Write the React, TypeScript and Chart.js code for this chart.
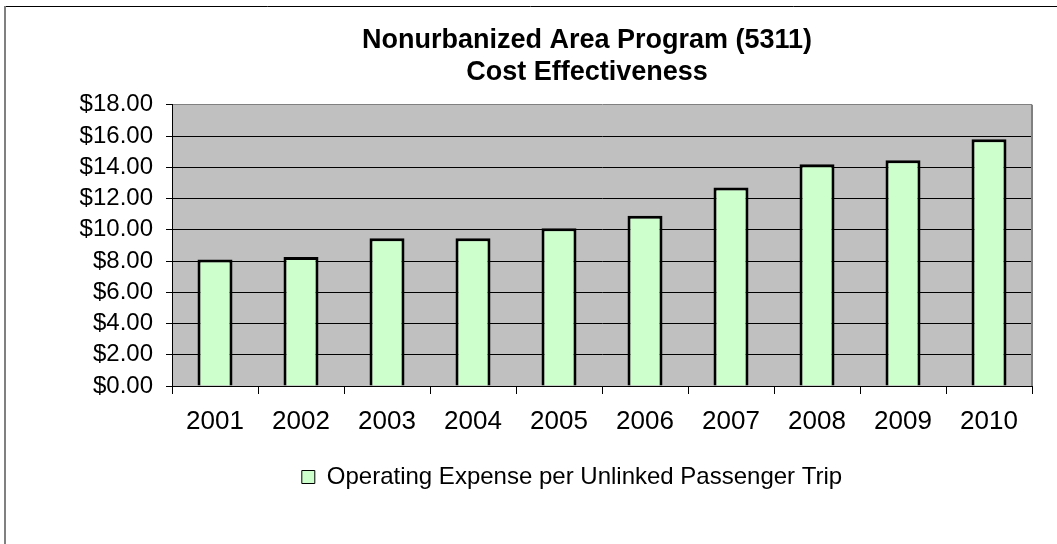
import React, { useEffect, useRef } from "react";
import { Chart, registerables } from "chart.js";

Chart.register(...registerables);

const categories = ["2001", "2002", "2003", "2004", "2005", "2006", "2007", "2008", "2009", "2010"];
const costPerTrip = [8.1, 8.25, 9.45, 9.45, 10.1, 10.9, 12.7, 14.2, 14.45, 15.8];
const titleLines = ["Nonurbanized Area Program (5311)", "Cost Effectiveness"];
const seriesLabel = "Operating Expense per Unlinked Passenger Trip";
const yMin = 0;
const yMax = 18;
const yStep = 2;

const FONT = "'Liberation Sans', Arial, Helvetica, sans-serif";

const decorPlugin = {
  id: "decor",
  afterLayout(chart: any) {
    const t = chart.titleBlock;
    if (t) {
      t.left -= 15;
      t.right -= 15;
    }
    const l = chart.legend;
    if (l) {
      l.left -= 30;
      l.right -= 30;
    }
  },
  beforeDraw(chart: any) {
    const { ctx, chartArea: a } = chart;
    ctx.save();
    ctx.fillStyle = "#ffffff";
    ctx.fillRect(0, 0, chart.width, chart.height);
    ctx.strokeStyle = "#000000";
    ctx.lineWidth = 1;
    ctx.beginPath();
    ctx.moveTo(4, 6.5);
    ctx.lineTo(chart.width, 6.5);
    ctx.stroke();
    ctx.strokeStyle = "#808080";
    ctx.lineWidth = 2;
    ctx.beginPath();
    ctx.moveTo(5, 6);
    ctx.lineTo(5, chart.height);
    ctx.stroke();
    ctx.fillStyle = "#c0c0c0";
    ctx.fillRect(a.left, a.top, a.right - a.left, a.bottom - a.top);
    ctx.restore();
  },
  beforeDatasetsDraw(chart: any) {
    const { ctx, chartArea: a } = chart;
    ctx.save();
    ctx.strokeStyle = "#808080";
    ctx.lineWidth = 2;
    ctx.beginPath();
    ctx.moveTo(a.right, a.top);
    ctx.lineTo(a.right, a.bottom);
    ctx.stroke();
    ctx.restore();
  },
};

export default function App() {
  const canvasRef = useRef<HTMLCanvasElement | null>(null);

  useEffect(() => {
    if (!canvasRef.current) return;
    const chart = new Chart(canvasRef.current, {
      type: "bar",
      data: {
        labels: categories,
        datasets: [
          {
            label: seriesLabel,
            data: costPerTrip,
            backgroundColor: "#ccffcc",
            borderColor: "#000000",
            borderWidth: 3,
            categoryPercentage: 1,
            barPercentage: 0.407,
          },
        ],
      },
      options: {
        animation: false,
        responsive: false,
        devicePixelRatio: 1,
        layout: { padding: { top: 4, left: 0, right: 25, bottom: 45 } },
        plugins: {
          tooltip: { enabled: false },
          title: {
            display: true,
            text: titleLines,
            color: "#000000",
            fullSize: false,
            font: { family: FONT, size: 27, weight: "bold", lineHeight: 1.2 },
            padding: { top: 20, bottom: 16 },
          },
          legend: {
            display: true,
            position: "bottom",
            fullSize: false,
            labels: {
              color: "#000000",
              font: { family: FONT, size: 24 },
              boxWidth: 13,
              boxHeight: 13,
              padding: 10,
              generateLabels: () => [
                {
                  text: seriesLabel,
                  fillStyle: "#ccffcc",
                  strokeStyle: "#000000",
                  lineWidth: 1,
                  hidden: false,
                  datasetIndex: 0,
                },
              ],
            },
          },
        },
        scales: {
          x: {
            afterFit: (s: any) => {
              s.height = 69;
            },
            grid: {
              offset: true,
              drawOnChartArea: false,
              drawTicks: true,
              tickLength: 8,
              tickColor: "#000000",
              color: "#000000",
            },
            border: { display: true, color: "#000000", width: 1 },
            ticks: {
              color: "#000000",
              font: { family: FONT, size: 26 },
              padding: 12,
              maxRotation: 0,
              autoSkip: false,
            },
          },
          y: {
            min: yMin,
            max: yMax,
            afterFit: (s: any) => {
              s.width = 172;
            },
            grid: {
              color: (c: any) => (c.tick && c.tick.value === yMax ? "#808080" : "#000000"),
              lineWidth: 1,
              drawTicks: true,
              tickLength: 6,
              tickColor: "#000000",
            },
            border: { display: true, color: "#000000", width: 1 },
            ticks: {
              stepSize: yStep,
              autoSkip: false,
              color: "#000000",
              font: { family: FONT, size: 24 },
              padding: 13,
              callback: (v: any) => "$" + Number(v).toFixed(2),
            },
          },
        },
      },
      plugins: [decorPlugin],
    });
    return () => chart.destroy();
  }, []);

  return (
    <div style={{ position: "absolute", left: 0, top: 0, width: 1057, height: 544, overflow: "hidden" }}>
      <canvas ref={canvasRef} width={1057} height={544} style={{ display: "block" }} />
    </div>
  );
}
